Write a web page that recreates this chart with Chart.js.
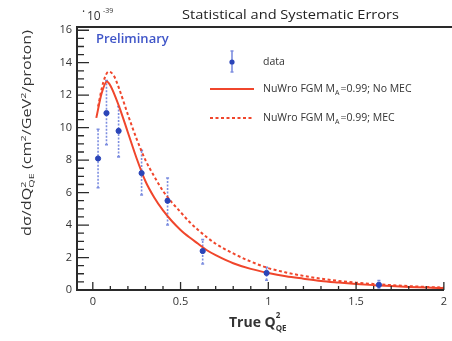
<!DOCTYPE html>
<html><head><meta charset="utf-8">
<script src="https://cdn.jsdelivr.net/npm/chart.js@4/dist/chart.umd.min.js"></script>
<style>html,body{margin:0;padding:0;background:#fff}canvas{display:block}</style>
</head><body><canvas id="c" width="452" height="341"></canvas>
<script>
// ---- data ----
const dataX    = [0.03, 0.078, 0.147, 0.278, 0.426, 0.626, 0.99, 1.63];
const dataY    = [8.1, 10.9, 9.8, 7.2, 5.5, 2.4, 1.05, 0.32];
const errLow   = [6.3, 8.95, 8.2, 5.85, 4.0, 1.6, 0.6, 0.12];
const errHigh  = [9.9, 12.9, 11.3, 8.6, 6.9, 3.1, 1.4, 0.58];

const noMecX = [0.02, 0.05, 0.08, 0.1, 0.15, 0.2, 0.25, 0.3, 0.35, 0.4, 0.45, 0.5, 0.55, 0.6, 0.65, 0.7, 0.8, 0.9, 1.0, 1.1, 1.2, 1.3, 1.4, 1.5, 1.6, 1.7, 1.8, 1.9, 2.0];
const noMecY = [10.6, 12.1, 12.85, 12.6, 11.3, 9.7, 8.1, 6.7, 5.7, 4.9, 4.25, 3.7, 3.25, 2.85, 2.45, 2.15, 1.65, 1.3, 1.05, 0.85, 0.7, 0.56, 0.46, 0.37, 0.3, 0.24, 0.19, 0.15, 0.12];
const mecX = [0.03, 0.06, 0.09, 0.12, 0.15, 0.2, 0.25, 0.3, 0.35, 0.4, 0.45, 0.5, 0.55, 0.6, 0.65, 0.7, 0.8, 0.9, 1.0, 1.1, 1.2, 1.3, 1.4, 1.5, 1.6, 1.7, 1.8, 1.9, 2.0];
const mecY = [11.3, 12.8, 13.45, 13.2, 12.4, 10.8, 9.3, 8.0, 7.0, 6.1, 5.4, 4.8, 4.2, 3.7, 3.25, 2.85, 2.25, 1.75, 1.35, 1.08, 0.87, 0.7, 0.56, 0.45, 0.37, 0.3, 0.24, 0.19, 0.15];

const xTickLabels = [0, 0.5, 1, 1.5, 2];
const yTickLabels = [0, 2, 4, 6, 8, 10, 12, 14, 16];

const seriesNames = ['data', 'NuWro FGM M', 'NuWro FGM M'];
const titleText = 'Statistical and Systematic Errors';

const RED = '#f0462c';
const BLUE = '#2b45b8';
const EBLUE = '#7d8ee0';
const AXIS = '#2a2a2a';

const toXY = (xs, ys) => xs.map((x, i) => ({x, y: ys[i]}));
const isMajor = (v, step) => Math.abs(v / step - Math.round(v / step)) < 1e-6;

const decor = {
  id: 'decor',
  beforeDatasetsDraw(chart) {
    const ctx = chart.ctx, xs = chart.scales.x, ys = chart.scales.y;
    ctx.save();
    ctx.strokeStyle = EBLUE; ctx.lineWidth = 1.6;
    dataX.forEach((x, i) => {
      const px = xs.getPixelForValue(x);
      const y1 = ys.getPixelForValue(errLow[i]), y2 = ys.getPixelForValue(errHigh[i]);
      ctx.setLineDash([2, 1.5]);
      ctx.beginPath(); ctx.moveTo(px, y1); ctx.lineTo(px, y2); ctx.stroke();
      ctx.setLineDash([]);
      ctx.beginPath();
      ctx.moveTo(px - 1.5, y1); ctx.lineTo(px + 1.5, y1);
      ctx.moveTo(px - 1.5, y2); ctx.lineTo(px + 1.5, y2);
      ctx.stroke();
    });
    ctx.restore();
  },
  afterDraw(chart) {
    const ctx = chart.ctx, xs = chart.scales.x, ys = chart.scales.y, a = chart.chartArea;
    ctx.save();
    ctx.strokeStyle = AXIS; ctx.lineWidth = 2;
    ctx.beginPath(); ctx.moveTo(a.left - 1, a.top); ctx.lineTo(452, a.top); ctx.stroke();
    ctx.lineWidth = 1.3;
    ctx.beginPath();
    for (let k = 0; k <= 20; k++) {
      const v = k * 0.1;
      const px = xs.getPixelForValue(v);
      const len = isMajor(v, 0.5) ? 8 : 4;
      ctx.moveTo(px, a.bottom); ctx.lineTo(px, a.bottom - len);
    }
    for (let k = 0; k <= 32; k++) {
      const v = k * 0.5;
      const py = ys.getPixelForValue(v);
      const len = isMajor(v, 2) ? 12 : 7;
      ctx.moveTo(a.left, py); ctx.lineTo(a.left + len, py);
    }
    ctx.stroke();

    // title
    ctx.fillStyle = '#222';
    ctx.font = '13px "Open Sans", "DejaVu Sans", sans-serif';
    ctx.textBaseline = 'middle'; ctx.textAlign = 'left';
    let w = ctx.measureText(titleText).width;
    ctx.save();
    ctx.translate(182, 15); ctx.scale(217 / w, 1);
    ctx.fillText(titleText, 0, 0);
    ctx.restore();

    // 10^-39
    ctx.font = '12px "Open Sans", sans-serif';
    ctx.fillStyle = '#333';
    ctx.fillText('·', 82, 13);
    ctx.fillText('10', 87, 17);
    ctx.font = '7px "Open Sans", sans-serif';
    ctx.fillText('-39', 103, 11);

    // Preliminary
    ctx.fillStyle = '#3f55c8';
    ctx.font = '600 13px "Open Sans", sans-serif';
    ctx.fillText('Preliminary', 96, 39);

    // legend
    ctx.fillStyle = '#333';
    const lx = 263;
    ctx.strokeStyle = EBLUE; ctx.lineWidth = 1.6;
    ctx.beginPath(); ctx.moveTo(232, 51); ctx.lineTo(232, 72);
    ctx.moveTo(230.5, 51); ctx.lineTo(233.5, 51); ctx.moveTo(230.5, 72); ctx.lineTo(233.5, 72); ctx.stroke();
    ctx.fillStyle = BLUE; ctx.beginPath(); ctx.arc(232, 62, 2.6, 0, Math.PI * 2); ctx.fill();
    ctx.fillStyle = '#333';
    ctx.font = '10.5px "Open Sans", sans-serif';
    ctx.fillText(seriesNames[0], lx, 62);
    ctx.strokeStyle = RED; ctx.lineWidth = 2;
    ctx.beginPath(); ctx.moveTo(210, 89); ctx.lineTo(254, 89); ctx.stroke();
    ctx.setLineDash([3, 2.5]);
    ctx.beginPath(); ctx.moveTo(210, 118); ctx.lineTo(254, 118); ctx.stroke();
    ctx.setLineDash([]);
    const legLine = (y, tail) => {
      let x = lx;
      ctx.font = '10.5px "Open Sans", sans-serif';
      ctx.fillText(seriesNames[1], x, y); x += ctx.measureText(seriesNames[1]).width;
      ctx.font = '7px "Open Sans", sans-serif';
      ctx.fillText('A', x, y + 4); x += ctx.measureText('A').width + 1;
      ctx.font = '10.5px "Open Sans", sans-serif';
      ctx.fillText(tail, x, y);
    };
    legLine(89, '=0.99; No MEC');
    legLine(118, '=0.99; MEC');

    // x title
    ctx.fillStyle = '#333';
    ctx.font = 'bold 14px "Open Sans", sans-serif';
    ctx.fillText('True Q', 229, 323);
    let tx = 229 + ctx.measureText('True Q').width;
    ctx.font = 'bold 8px "Open Sans", sans-serif';
    ctx.fillText('2', tx, 316);
    ctx.fillText('QE', tx, 329);

    // y title (rotated), fitted between y=236 and y=30
    ctx.save();
    const segs = [['dσ/dQ', 0, 12], ['2', -4, 8], ['QE', 4, 8], [' (cm', 0, 12], ['2', -4, 8], ['/GeV', 0, 12], ['2', -4, 8], ['/proton)', 0, 12]];
    let total = 0;
    segs.forEach(([t, dy, fs], i) => {
      ctx.font = fs + 'px "Open Sans", sans-serif';
      if (!(t === '2' && segs[i + 1] && segs[i + 1][0] === 'QE')) total += ctx.measureText(t).width;
    });
    ctx.translate(28, 236); ctx.rotate(-Math.PI / 2); ctx.scale(206 / total, 1);
    ctx.fillStyle = '#333';
    let sx = 0;
    segs.forEach(([t, dy, fs], i) => {
      ctx.font = fs + 'px "Open Sans", sans-serif';
      ctx.fillText(t, sx, dy);
      if (t === '2' && segs[i + 1] && segs[i + 1][0] === 'QE') return;
      sx += ctx.measureText(t).width;
    });
    ctx.restore();
    ctx.restore();
  }
};

new Chart(document.getElementById('c'), {
  type: 'scatter',
  data: {
    datasets: [
      { label: seriesNames[0], data: toXY(dataX, dataY), backgroundColor: BLUE, borderColor: BLUE, pointRadius: 2.6, showLine: false, order: 0 },
      { label: 'No MEC', data: toXY(noMecX, noMecY), borderColor: RED, borderWidth: 2, pointRadius: 0, showLine: true, cubicInterpolationMode: 'monotone', order: 2 },
      { label: 'MEC', data: toXY(mecX, mecY), borderColor: RED, borderWidth: 2, borderDash: [3, 2.5], pointRadius: 0, showLine: true, cubicInterpolationMode: 'monotone', order: 1 }
    ]
  },
  options: {
    responsive: false, animation: false, devicePixelRatio: 1,
    layout: { padding: { top: 27, right: 1, left: 0, bottom: 0 } },
    plugins: { legend: { display: false }, tooltip: { enabled: false } },
    scales: {
      x: {
        type: 'linear', min: -0.09, max: 2.0,
        afterFit: s => { s.height = 51; },
        afterBuildTicks: s => { s.ticks = xTickLabels.map(v => ({ value: v })); },
        grid: { display: false, drawTicks: false },
        border: { display: true, color: AXIS, width: 2 },
        ticks: {
          padding: 5, color: '#333', maxRotation: 0, autoSkip: false,
          font: { size: 11, family: '"Open Sans", sans-serif' },
          callback: v => String(v)
        }
      },
      y: {
        type: 'linear', min: 0, max: 16.2,
        afterFit: s => { s.width = 77; },
        afterBuildTicks: s => { s.ticks = yTickLabels.map(v => ({ value: v })); },
        grid: { display: false, drawTicks: false },
        border: { display: true, color: AXIS, width: 2 },
        ticks: {
          padding: 5, color: '#333', autoSkip: false,
          font: { size: 11, family: '"Open Sans", sans-serif' },
          callback: v => String(v)
        }
      }
    }
  },
  plugins: [decor]
});
</script></body></html>
